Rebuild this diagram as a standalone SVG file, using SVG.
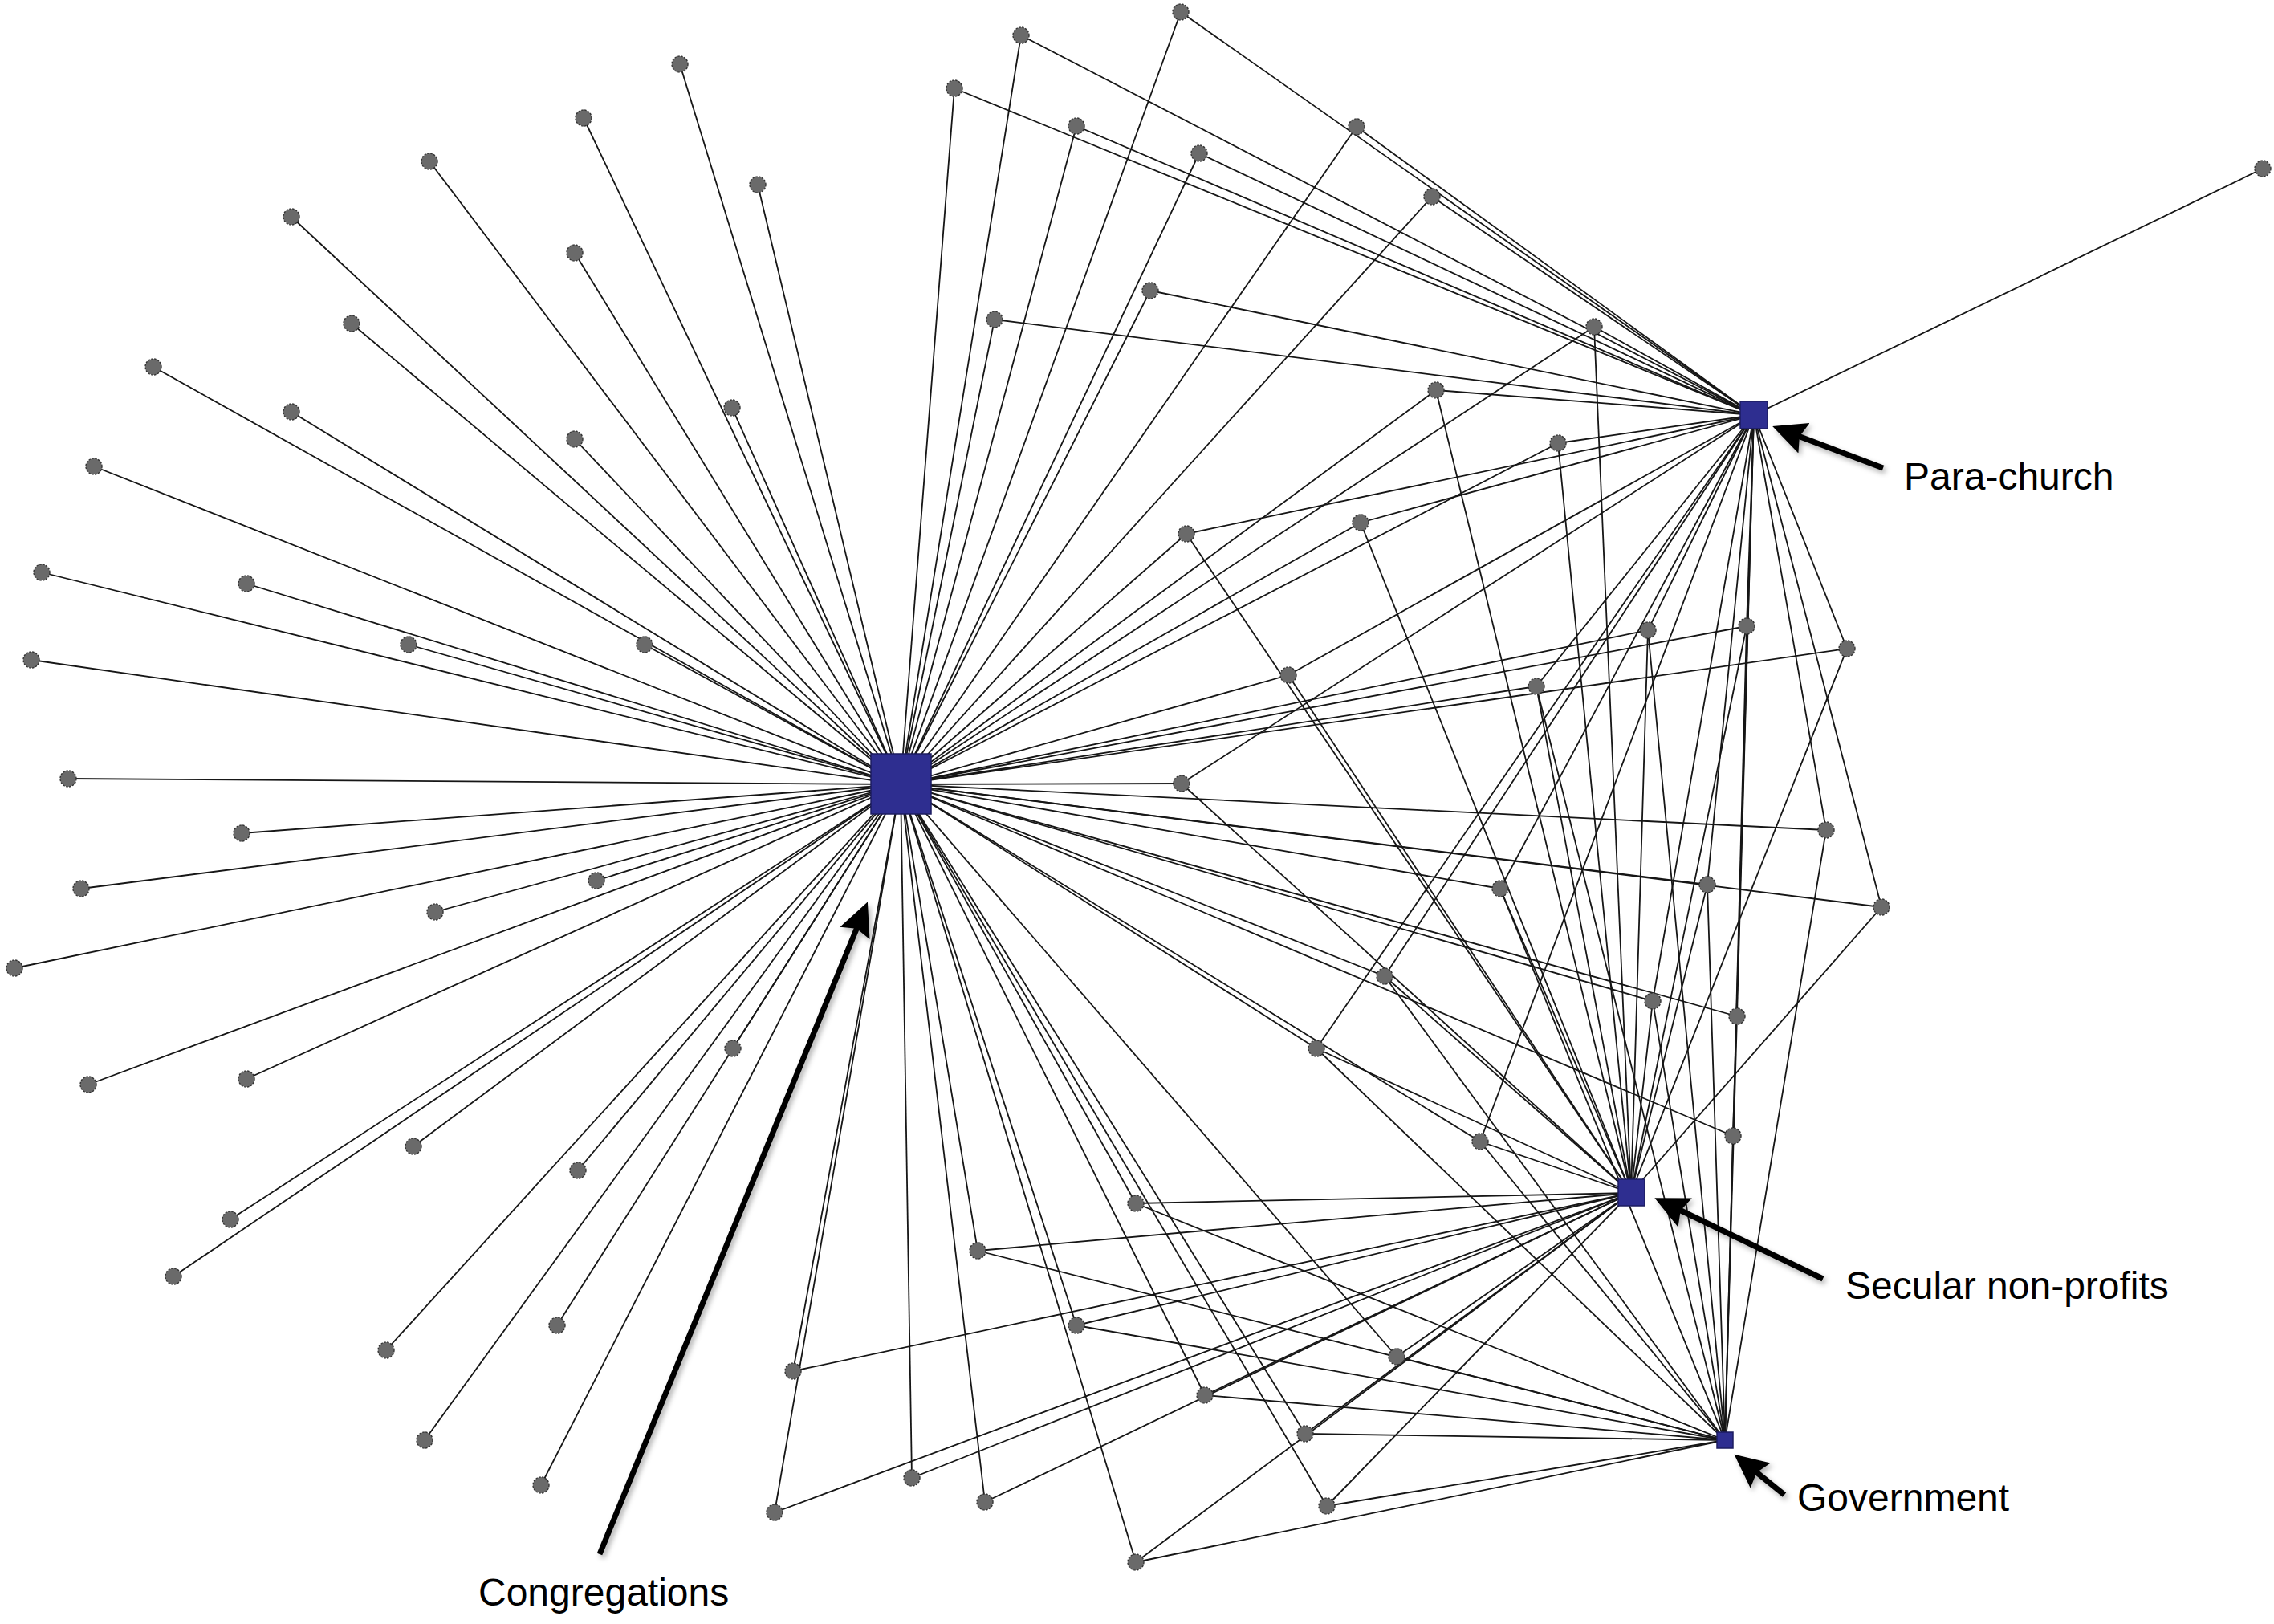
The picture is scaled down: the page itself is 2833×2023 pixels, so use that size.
<svg xmlns="http://www.w3.org/2000/svg" width="2833" height="2023" viewBox="0 0 2833 2023">
<style>
.e{stroke:#161616;stroke-width:1.8;fill:none}
.n{fill:#6a6a6a;stroke:#333;stroke-width:1.4;stroke-dasharray:2.5 1.5}
.h{fill:#2e2e90;stroke:#1c1c60;stroke-width:1.5}
.lbl{font-family:"Liberation Sans",Arial,sans-serif;font-size:48px;fill:#000}
.arr{stroke:#000;stroke-width:7;fill:none}
</style>
<defs>
<marker id="ah" markerUnits="userSpaceOnUse" markerWidth="46" markerHeight="46" refX="8" refY="22" orient="auto">
<path d="M0,2 L42,22 L0,42 L6,22 Z" fill="#000"/>
</marker>
<filter id="sh" x="-20%" y="-20%" width="140%" height="140%">
<feDropShadow dx="3" dy="4" stdDeviation="3" flood-color="#000" flood-opacity="0.3"/>
</filter>
</defs>
<rect width="2833" height="2023" fill="#fff"/>
<g id="connectors">
<line class="e" x1="847" y1="80" x2="1122" y2="977"/>
<line class="e" x1="727" y1="147" x2="1122" y2="977"/>
<line class="e" x1="535" y1="201" x2="1122" y2="977"/>
<line class="e" x1="363" y1="270" x2="1122" y2="977"/>
<line class="e" x1="944" y1="230" x2="1122" y2="977"/>
<line class="e" x1="716" y1="315" x2="1122" y2="977"/>
<line class="e" x1="438" y1="403" x2="1122" y2="977"/>
<line class="e" x1="191" y1="457" x2="1122" y2="977"/>
<line class="e" x1="912" y1="508" x2="1122" y2="977"/>
<line class="e" x1="363" y1="513" x2="1122" y2="977"/>
<line class="e" x1="716" y1="547" x2="1122" y2="977"/>
<line class="e" x1="117" y1="581" x2="1122" y2="977"/>
<line class="e" x1="52" y1="713" x2="1122" y2="977"/>
<line class="e" x1="307" y1="727" x2="1122" y2="977"/>
<line class="e" x1="509" y1="803" x2="1122" y2="977"/>
<line class="e" x1="803" y1="803" x2="1122" y2="977"/>
<line class="e" x1="39" y1="822" x2="1122" y2="977"/>
<line class="e" x1="85" y1="970" x2="1122" y2="977"/>
<line class="e" x1="301" y1="1038" x2="1122" y2="977"/>
<line class="e" x1="101" y1="1107" x2="1122" y2="977"/>
<line class="e" x1="743" y1="1097" x2="1122" y2="977"/>
<line class="e" x1="542" y1="1136" x2="1122" y2="977"/>
<line class="e" x1="18" y1="1206" x2="1122" y2="977"/>
<line class="e" x1="913" y1="1306" x2="1122" y2="977"/>
<line class="e" x1="110" y1="1351" x2="1122" y2="977"/>
<line class="e" x1="307" y1="1344" x2="1122" y2="977"/>
<line class="e" x1="515" y1="1428" x2="1122" y2="977"/>
<line class="e" x1="720" y1="1458" x2="1122" y2="977"/>
<line class="e" x1="287" y1="1519" x2="1122" y2="977"/>
<line class="e" x1="216" y1="1590" x2="1122" y2="977"/>
<line class="e" x1="694" y1="1651" x2="1122" y2="977"/>
<line class="e" x1="481" y1="1682" x2="1122" y2="977"/>
<line class="e" x1="529" y1="1794" x2="1122" y2="977"/>
<line class="e" x1="674" y1="1850" x2="1122" y2="977"/>
<line class="e" x1="1272" y1="44" x2="1122" y2="977"/><line class="e" x1="1272" y1="44" x2="2185" y2="517"/>
<line class="e" x1="1471" y1="15" x2="1122" y2="977"/><line class="e" x1="1471" y1="15" x2="2185" y2="517"/>
<line class="e" x1="1189" y1="110" x2="1122" y2="977"/><line class="e" x1="1189" y1="110" x2="2185" y2="517"/>
<line class="e" x1="1341" y1="157" x2="1122" y2="977"/><line class="e" x1="1341" y1="157" x2="2185" y2="517"/>
<line class="e" x1="1690" y1="158" x2="1122" y2="977"/><line class="e" x1="1690" y1="158" x2="2185" y2="517"/>
<line class="e" x1="1494" y1="191" x2="1122" y2="977"/><line class="e" x1="1494" y1="191" x2="2185" y2="517"/>
<line class="e" x1="1784" y1="245" x2="1122" y2="977"/><line class="e" x1="1784" y1="245" x2="2185" y2="517"/>
<line class="e" x1="1433" y1="362" x2="1122" y2="977"/><line class="e" x1="1433" y1="362" x2="2185" y2="517"/>
<line class="e" x1="1239" y1="398" x2="1122" y2="977"/><line class="e" x1="1239" y1="398" x2="2185" y2="517"/>
<line class="e" x1="1986" y1="407" x2="1122" y2="977"/><line class="e" x1="1986" y1="407" x2="2185" y2="517"/><line class="e" x1="1986" y1="407" x2="2032" y2="1486"/>
<line class="e" x1="1789" y1="486" x2="1122" y2="977"/><line class="e" x1="1789" y1="486" x2="2185" y2="517"/><line class="e" x1="1789" y1="486" x2="2032" y2="1486"/>
<line class="e" x1="1941" y1="552" x2="1122" y2="977"/><line class="e" x1="1941" y1="552" x2="2185" y2="517"/><line class="e" x1="1941" y1="552" x2="2032" y2="1486"/>
<line class="e" x1="1695" y1="651" x2="1122" y2="977"/><line class="e" x1="1695" y1="651" x2="2185" y2="517"/><line class="e" x1="1695" y1="651" x2="2032" y2="1486"/>
<line class="e" x1="1478" y1="665" x2="1122" y2="977"/><line class="e" x1="1478" y1="665" x2="2185" y2="517"/><line class="e" x1="1478" y1="665" x2="2032" y2="1486"/>
<line class="e" x1="2819" y1="210" x2="2185" y2="517"/>
<line class="e" x1="1605" y1="841" x2="1122" y2="977"/><line class="e" x1="1605" y1="841" x2="2185" y2="517"/><line class="e" x1="1605" y1="841" x2="2032" y2="1486"/>
<line class="e" x1="1914" y1="855" x2="1122" y2="977"/><line class="e" x1="1914" y1="855" x2="2185" y2="517"/><line class="e" x1="1914" y1="855" x2="2032" y2="1486"/><line class="e" x1="1914" y1="855" x2="2149" y2="1794"/>
<line class="e" x1="2053" y1="785" x2="1122" y2="977"/><line class="e" x1="2053" y1="785" x2="2185" y2="517"/><line class="e" x1="2053" y1="785" x2="2032" y2="1486"/><line class="e" x1="2053" y1="785" x2="2149" y2="1794"/>
<line class="e" x1="1472" y1="976" x2="1122" y2="977"/><line class="e" x1="1472" y1="976" x2="2185" y2="517"/><line class="e" x1="1472" y1="976" x2="2032" y2="1486"/>
<line class="e" x1="2176" y1="780" x2="1122" y2="977"/><line class="e" x1="2176" y1="780" x2="2185" y2="517"/><line class="e" x1="2176" y1="780" x2="2032" y2="1486"/><line class="e" x1="2176" y1="780" x2="2149" y2="1794"/>
<line class="e" x1="2301" y1="808" x2="1122" y2="977"/><line class="e" x1="2301" y1="808" x2="2185" y2="517"/><line class="e" x1="2301" y1="808" x2="2032" y2="1486"/>
<line class="e" x1="1869" y1="1107" x2="1122" y2="977"/><line class="e" x1="1869" y1="1107" x2="2185" y2="517"/><line class="e" x1="1869" y1="1107" x2="2032" y2="1486"/><line class="e" x1="1869" y1="1107" x2="2149" y2="1794"/>
<line class="e" x1="2127" y1="1102" x2="1122" y2="977"/><line class="e" x1="2127" y1="1102" x2="2185" y2="517"/><line class="e" x1="2127" y1="1102" x2="2032" y2="1486"/><line class="e" x1="2127" y1="1102" x2="2149" y2="1794"/>
<line class="e" x1="2275" y1="1034" x2="1122" y2="977"/><line class="e" x1="2275" y1="1034" x2="2185" y2="517"/><line class="e" x1="2275" y1="1034" x2="2149" y2="1794"/>
<line class="e" x1="2344" y1="1130" x2="1122" y2="977"/><line class="e" x1="2344" y1="1130" x2="2185" y2="517"/><line class="e" x1="2344" y1="1130" x2="2032" y2="1486"/>
<line class="e" x1="1725" y1="1216" x2="1122" y2="977"/><line class="e" x1="1725" y1="1216" x2="2185" y2="517"/><line class="e" x1="1725" y1="1216" x2="2032" y2="1486"/><line class="e" x1="1725" y1="1216" x2="2149" y2="1794"/>
<line class="e" x1="2059" y1="1247" x2="1122" y2="977"/><line class="e" x1="2059" y1="1247" x2="2185" y2="517"/><line class="e" x1="2059" y1="1247" x2="2032" y2="1486"/><line class="e" x1="2059" y1="1247" x2="2149" y2="1794"/>
<line class="e" x1="2164" y1="1266" x2="1122" y2="977"/><line class="e" x1="2164" y1="1266" x2="2185" y2="517"/><line class="e" x1="2164" y1="1266" x2="2149" y2="1794"/>
<line class="e" x1="1640" y1="1306" x2="1122" y2="977"/><line class="e" x1="1640" y1="1306" x2="2185" y2="517"/><line class="e" x1="1640" y1="1306" x2="2032" y2="1486"/><line class="e" x1="1640" y1="1306" x2="2149" y2="1794"/>
<line class="e" x1="1844" y1="1422" x2="1122" y2="977"/><line class="e" x1="1844" y1="1422" x2="2185" y2="517"/><line class="e" x1="1844" y1="1422" x2="2032" y2="1486"/><line class="e" x1="1844" y1="1422" x2="2149" y2="1794"/>
<line class="e" x1="2159" y1="1415" x2="1122" y2="977"/><line class="e" x1="2159" y1="1415" x2="2185" y2="517"/><line class="e" x1="2159" y1="1415" x2="2149" y2="1794"/>
<line class="e" x1="1415" y1="1499" x2="1122" y2="977"/><line class="e" x1="1415" y1="1499" x2="2032" y2="1486"/><line class="e" x1="1415" y1="1499" x2="2149" y2="1794"/>
<line class="e" x1="1218" y1="1558" x2="1122" y2="977"/><line class="e" x1="1218" y1="1558" x2="2032" y2="1486"/><line class="e" x1="1218" y1="1558" x2="2149" y2="1794"/>
<line class="e" x1="1341" y1="1651" x2="1122" y2="977"/><line class="e" x1="1341" y1="1651" x2="2032" y2="1486"/><line class="e" x1="1341" y1="1651" x2="2149" y2="1794"/>
<line class="e" x1="988" y1="1708" x2="1122" y2="977"/><line class="e" x1="988" y1="1708" x2="2032" y2="1486"/>
<line class="e" x1="1740" y1="1690" x2="1122" y2="977"/><line class="e" x1="1740" y1="1690" x2="2032" y2="1486"/><line class="e" x1="1740" y1="1690" x2="2149" y2="1794"/>
<line class="e" x1="1501" y1="1738" x2="1122" y2="977"/><line class="e" x1="1501" y1="1738" x2="2032" y2="1486"/><line class="e" x1="1501" y1="1738" x2="2149" y2="1794"/>
<line class="e" x1="1626" y1="1786" x2="1122" y2="977"/><line class="e" x1="1626" y1="1786" x2="2032" y2="1486"/><line class="e" x1="1626" y1="1786" x2="2149" y2="1794"/>
<line class="e" x1="1136" y1="1841" x2="1122" y2="977"/><line class="e" x1="1136" y1="1841" x2="2032" y2="1486"/>
<line class="e" x1="1227" y1="1871" x2="1122" y2="977"/><line class="e" x1="1227" y1="1871" x2="2032" y2="1486"/>
<line class="e" x1="965" y1="1884" x2="1122" y2="977"/><line class="e" x1="965" y1="1884" x2="2032" y2="1486"/>
<line class="e" x1="1653" y1="1876" x2="1122" y2="977"/><line class="e" x1="1653" y1="1876" x2="2032" y2="1486"/><line class="e" x1="1653" y1="1876" x2="2149" y2="1794"/>
<line class="e" x1="1415" y1="1946" x2="1122" y2="977"/><line class="e" x1="1415" y1="1946" x2="2032" y2="1486"/><line class="e" x1="1415" y1="1946" x2="2149" y2="1794"/>
</g>
<g id="nodes">
<g id="L1"><circle class="n" cx="847" cy="80" r="10"/></g>
<g id="L2"><circle class="n" cx="727" cy="147" r="10"/></g>
<g id="L3"><circle class="n" cx="535" cy="201" r="10"/></g>
<g id="L4"><circle class="n" cx="363" cy="270" r="10"/></g>
<g id="L5"><circle class="n" cx="944" cy="230" r="10"/></g>
<g id="L6"><circle class="n" cx="716" cy="315" r="10"/></g>
<g id="L7"><circle class="n" cx="438" cy="403" r="10"/></g>
<g id="L8"><circle class="n" cx="191" cy="457" r="10"/></g>
<g id="L9"><circle class="n" cx="912" cy="508" r="10"/></g>
<g id="L10"><circle class="n" cx="363" cy="513" r="10"/></g>
<g id="L11"><circle class="n" cx="716" cy="547" r="10"/></g>
<g id="L12"><circle class="n" cx="117" cy="581" r="10"/></g>
<g id="L13"><circle class="n" cx="52" cy="713" r="10"/></g>
<g id="L14"><circle class="n" cx="307" cy="727" r="10"/></g>
<g id="L15"><circle class="n" cx="509" cy="803" r="10"/></g>
<g id="L16"><circle class="n" cx="803" cy="803" r="10"/></g>
<g id="L17"><circle class="n" cx="39" cy="822" r="10"/></g>
<g id="L18"><circle class="n" cx="85" cy="970" r="10"/></g>
<g id="L19"><circle class="n" cx="301" cy="1038" r="10"/></g>
<g id="L20"><circle class="n" cx="101" cy="1107" r="10"/></g>
<g id="L21"><circle class="n" cx="743" cy="1097" r="10"/></g>
<g id="L22"><circle class="n" cx="542" cy="1136" r="10"/></g>
<g id="L23"><circle class="n" cx="18" cy="1206" r="10"/></g>
<g id="L24"><circle class="n" cx="913" cy="1306" r="10"/></g>
<g id="L25"><circle class="n" cx="110" cy="1351" r="10"/></g>
<g id="L26"><circle class="n" cx="307" cy="1344" r="10"/></g>
<g id="L27"><circle class="n" cx="515" cy="1428" r="10"/></g>
<g id="L28"><circle class="n" cx="720" cy="1458" r="10"/></g>
<g id="L29"><circle class="n" cx="287" cy="1519" r="10"/></g>
<g id="L30"><circle class="n" cx="216" cy="1590" r="10"/></g>
<g id="L31"><circle class="n" cx="694" cy="1651" r="10"/></g>
<g id="L32"><circle class="n" cx="481" cy="1682" r="10"/></g>
<g id="L33"><circle class="n" cx="529" cy="1794" r="10"/></g>
<g id="L34"><circle class="n" cx="674" cy="1850" r="10"/></g>
<g id="T1"><circle class="n" cx="1272" cy="44" r="10"/></g>
<g id="T2"><circle class="n" cx="1471" cy="15" r="10"/></g>
<g id="T3"><circle class="n" cx="1189" cy="110" r="10"/></g>
<g id="T4"><circle class="n" cx="1341" cy="157" r="10"/></g>
<g id="T5"><circle class="n" cx="1690" cy="158" r="10"/></g>
<g id="T6"><circle class="n" cx="1494" cy="191" r="10"/></g>
<g id="T7"><circle class="n" cx="1784" cy="245" r="10"/></g>
<g id="T8"><circle class="n" cx="1433" cy="362" r="10"/></g>
<g id="T9"><circle class="n" cx="1239" cy="398" r="10"/></g>
<g id="T10"><circle class="n" cx="1986" cy="407" r="10"/></g>
<g id="T11"><circle class="n" cx="1789" cy="486" r="10"/></g>
<g id="T12"><circle class="n" cx="1941" cy="552" r="10"/></g>
<g id="T13"><circle class="n" cx="1695" cy="651" r="10"/></g>
<g id="T14"><circle class="n" cx="1478" cy="665" r="10"/></g>
<g id="F1"><circle class="n" cx="2819" cy="210" r="10"/></g>
<g id="M1"><circle class="n" cx="1605" cy="841" r="10"/></g>
<g id="M2"><circle class="n" cx="1914" cy="855" r="10"/></g>
<g id="M3"><circle class="n" cx="2053" cy="785" r="10"/></g>
<g id="M4"><circle class="n" cx="1472" cy="976" r="10"/></g>
<g id="M5"><circle class="n" cx="2176" cy="780" r="10"/></g>
<g id="M6"><circle class="n" cx="2301" cy="808" r="10"/></g>
<g id="M7"><circle class="n" cx="1869" cy="1107" r="10"/></g>
<g id="M8"><circle class="n" cx="2127" cy="1102" r="10"/></g>
<g id="M9"><circle class="n" cx="2275" cy="1034" r="10"/></g>
<g id="M10"><circle class="n" cx="2344" cy="1130" r="10"/></g>
<g id="M11"><circle class="n" cx="1725" cy="1216" r="10"/></g>
<g id="M12"><circle class="n" cx="2059" cy="1247" r="10"/></g>
<g id="M13"><circle class="n" cx="2164" cy="1266" r="10"/></g>
<g id="M14"><circle class="n" cx="1640" cy="1306" r="10"/></g>
<g id="M15"><circle class="n" cx="1844" cy="1422" r="10"/></g>
<g id="M16"><circle class="n" cx="2159" cy="1415" r="10"/></g>
<g id="B1"><circle class="n" cx="1415" cy="1499" r="10"/></g>
<g id="B2"><circle class="n" cx="1218" cy="1558" r="10"/></g>
<g id="B3"><circle class="n" cx="1341" cy="1651" r="10"/></g>
<g id="B4"><circle class="n" cx="988" cy="1708" r="10"/></g>
<g id="B5"><circle class="n" cx="1740" cy="1690" r="10"/></g>
<g id="B6"><circle class="n" cx="1501" cy="1738" r="10"/></g>
<g id="B7"><circle class="n" cx="1626" cy="1786" r="10"/></g>
<g id="B8"><circle class="n" cx="1136" cy="1841" r="10"/></g>
<g id="B9"><circle class="n" cx="1227" cy="1871" r="10"/></g>
<g id="B10"><circle class="n" cx="965" cy="1884" r="10"/></g>
<g id="B11"><circle class="n" cx="1653" cy="1876" r="10"/></g>
<g id="B12"><circle class="n" cx="1415" cy="1946" r="10"/></g>
<g id="congregations"><rect class="h" x="1085" y="939" width="75" height="75"/></g>
<g id="para-church"><rect class="h" x="2168" y="500" width="34" height="34"/></g>
<g id="secular"><rect class="h" x="2016" y="1469" width="33" height="33"/></g>
<g id="government"><rect class="h" x="2139" y="1784" width="20" height="20"/></g>
</g>
<g id="annotations">
<g filter="url(#sh)">
<line class="arr" x1="2346" y1="583" x2="2240" y2="543" marker-end="url(#ah)"/>
<line class="arr" x1="2271" y1="1593" x2="2092" y2="1507" marker-end="url(#ah)"/>
<line class="arr" x1="2223" y1="1862" x2="2187" y2="1833" marker-end="url(#ah)"/>
<line class="arr" x1="747" y1="1936" x2="1068" y2="1155" marker-end="url(#ah)"/>
</g>
<text class="lbl" x="2372" y="610">Para-church</text>
<text class="lbl" x="2299" y="1618">Secular non-profits</text>
<text class="lbl" x="2239" y="1882">Government</text>
<text class="lbl" x="596" y="2000">Congregations</text>
</g>
</svg>
